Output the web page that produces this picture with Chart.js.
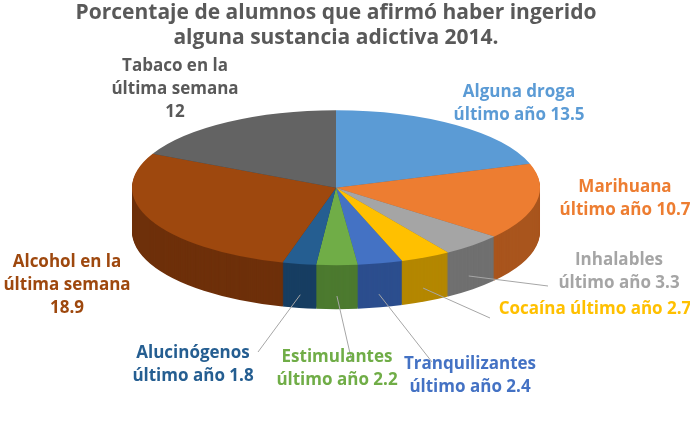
<!DOCTYPE html>
<html><head><meta charset="utf-8">
<script src="https://cdn.jsdelivr.net/npm/chart.js@4"></script>
<style>body{margin:0;background:#fff}#wrap{width:690px;height:421px}</style>
</head><body><div id="wrap"><canvas id="c"></canvas></div>
<script>
var labels = ['Alguna droga último año', 'Marihuana último año', 'Inhalables último año', 'Cocaína último año',
  'Tranquilizantes último año', 'Estimulantes último año', 'Alucinógenos último año', 'Alcohol en la última semana', 'Tabaco en la última semana'];
var values = [13.5, 10.7, 3.3, 2.7, 2.4, 2.2, 1.8, 18.9, 12];
var colors = ['#5B9BD5', '#ED7D31', '#A5A5A5', '#FFC000', '#4472C4', '#70AD47', '#255E91', '#9E480E', '#636363'];
var sideColors = ['#3d6f9e', '#a9551d', '#707070', '#b48700', '#2c4e8e', '#4c7a2f', '#173e62', '#6e300a', '#404040'];
var textColors = ['#5B9BD5', '#ED7D31', '#A5A5A5', '#FFC000', '#4472C4', '#70AD47', '#255E91', '#9E480E', '#595959'];
// label text lines and anchor (center of first line), plus leader end point if any
var labelLines = [['Alguna droga', 'último año 13.5'], ['Marihuana', 'último año 10.7'], ['Inhalables', 'último año 3.3'],
  ['Cocaína último año 2.7'], ['Tranquilizantes', 'último año 2.4'], ['Estimulantes', 'último año 2.2'],
  ['Alucinógenos', 'último año 1.8'], ['Alcohol en la', 'última semana', '18.9'], ['Tabaco en la', 'última semana', '12']];
var labelPos = [[519, 92], [625, 187], [619, 260], [595, 309], [470, 364], [337, 357], [193, 353], [67, 262], [175, 66]];
var leaderEnd = [null, null, [548, 286], [490, 318], [432, 362], [352, 362], [258, 352], null, null];

var K = 0.38, DEPTH = 44;

var pie3d = {
  id: 'pie3d',
  beforeDatasetsDraw: function (chart) {
    var ctx = chart.ctx, meta = chart.getDatasetMeta(0), a0 = meta.data[0];
    var cx = a0.x, cy = a0.y;
    // side walls
    for (var d = DEPTH; d >= 1; d--) {
      ctx.save();
      ctx.translate(0, d);
      ctx.translate(cx, cy); ctx.scale(1, K); ctx.translate(-cx, -cy);
      meta.data.forEach(function (arc, i) {
        var bg = arc.options.backgroundColor;
        arc.options.backgroundColor = sideColors[i];
        arc.draw(ctx);
        arc.options.backgroundColor = bg;
      });
      ctx.restore();
    }
    ctx.save();
    ctx.translate(cx, cy); ctx.scale(1, K); ctx.translate(-cx, -cy);
  },
  afterDatasetsDraw: function (chart) {
    var ctx = chart.ctx, meta = chart.getDatasetMeta(0);
    ctx.restore();
    ctx.save();
    ctx.font = 'bold 17px "Open Sans", Calibri, sans-serif';
    ctx.textAlign = 'center';
    ctx.textBaseline = 'middle';
    meta.data.forEach(function (arc, i) {
      if (leaderEnd[i]) {
        var mid = (arc.startAngle + arc.endAngle) / 2;
        var sx = arc.x + Math.cos(mid) * arc.outerRadius * 0.97;
        var sy = arc.y + Math.sin(mid) * arc.outerRadius * K + DEPTH * 0.7;
        ctx.strokeStyle = '#A6A6A6'; ctx.lineWidth = 1;
        ctx.beginPath(); ctx.moveTo(sx, sy); ctx.lineTo(leaderEnd[i][0], leaderEnd[i][1]); ctx.stroke();
      }
      ctx.fillStyle = textColors[i];
      labelLines[i].forEach(function (t, j) {
        ctx.fillText(t, labelPos[i][0], labelPos[i][1] + j * 23);
      });
    });
    ctx.restore();
  }
};

new Chart(document.getElementById('c'), {
  type: 'pie',
  data: { labels: labels, datasets: [{ data: values, backgroundColor: colors, borderWidth: 0 }] },
  options: {
    responsive: true, maintainAspectRatio: false, animation: false,
    radius: 204,
    layout: { padding: { top: 0, bottom: 100, left: 0, right: 18 } },
    plugins: {
      legend: { display: false }, tooltip: { enabled: false },
      title: { display: true, text: ['Porcentaje de alumnos que afirmó haber ingerido', 'alguna sustancia adictiva 2014.'],
        color: '#595959', font: { size: 21, weight: 'bold', family: '"Open Sans", Calibri, sans-serif' },
        padding: { top: 0, bottom: 4 } }
    }
  },
  plugins: [pie3d]
});
</script></body></html>
